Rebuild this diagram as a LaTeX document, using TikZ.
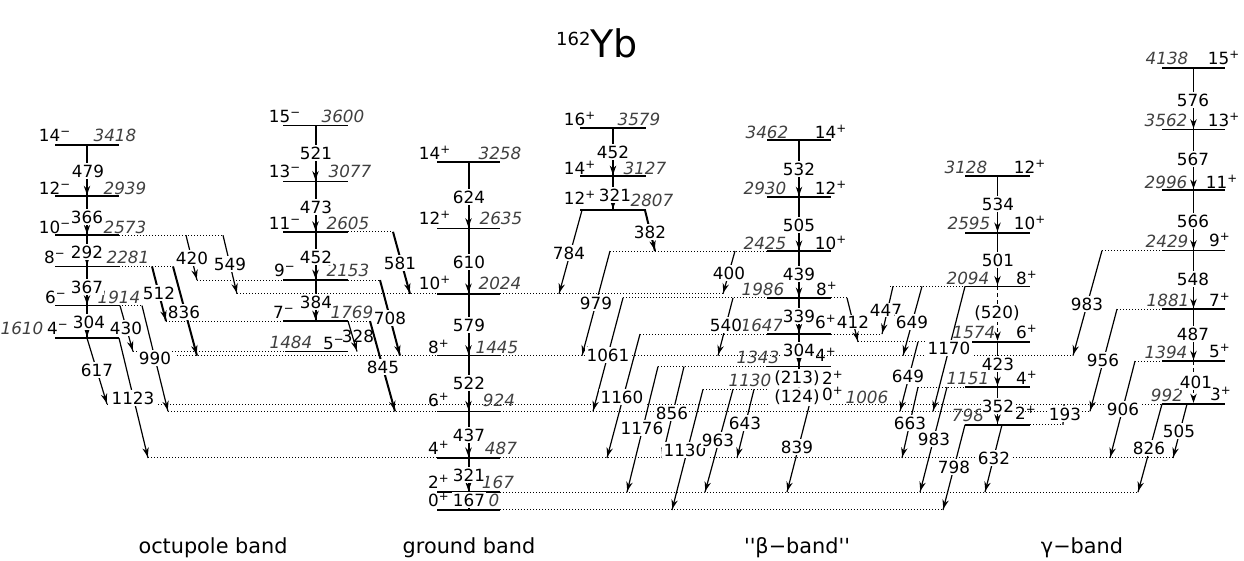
\documentclass[tikz,border=0pt]{standalone}
\usepackage{fontspec}
\setmainfont{DejaVu Sans}
\newfontfamily\plainfont{DejaVu Sans}
\usetikzlibrary{arrows.meta, decorations.markings}
% level height from the energy in keV
\newcommand\ey[1]{510-0.1068*#1}
\newcommand\numfont{\fontsize{8.4}{10}\selectfont}
\newcommand\pl[1]{#1\textsuperscript{+}}
\newcommand\mi[1]{#1\textsuperscript{−}}

\begin{document}
\begin{tikzpicture}[x=0.5pt, y=-0.5pt,
  lvl/.style={line width=0.8pt},
  dot/.style={line width=0.5pt, dash pattern=on 0.5pt off 1pt},
  tr/.style={line width=0.6pt, decoration={markings, mark=at position -0.6pt with {\arrow{Stealth[length=4.6pt,width=3.2pt]}}}, postaction={decorate}},
  thk/.style={tr, line width=1pt},
  dsh/.style={tr, dash pattern=on 2pt off 1.5pt},
  num/.style={inner sep=0.6pt, fill=white, font=\numfont},
  spin/.style={inner sep=0pt, font=\numfont},
  en/.style={inner sep=0pt, font=\numfont\itshape, text=black!75},
  band/.style={inner sep=0pt, font=\plainfont\fontsize{10.4}{12}\selectfont}
]
\useasboundingbox (0,0) rectangle (1244,561);

% dotted extensions of the levels
\draw[dot] (119,\ey{2573}) -- (223,\ey{2573});
\draw[dot] (119,\ey{2281}) -- (173,\ey{2281});
\draw[dot] (119,\ey{1914}) -- (142,\ey{1914});
\draw[dot] (197,\ey{2153}) -- (283,\ey{2153});
\draw[dot] (348,\ey{2153}) -- (380,\ey{2153});
\draw[dot] (348,\ey{2605}) -- (393,\ey{2605});
\draw[dot] (166,\ey{1769}) -- (283,\ey{1769});
\draw[dot] (348,\ey{1769}) -- (370,\ey{1769});
\draw[dot] (133,\ey{1484}) -- (285,\ey{1484});
\draw[dot] (237,\ey{2024}) -- (437,\ey{2024});
\draw[dot] (500,\ey{2024}) -- (723,\ey{2024});
\draw[dot] (177,\ey{1445}) -- (437,\ey{1445});
\draw[dot] (500,\ey{1445}) -- (1073,\ey{1445});
\draw[dot] (168,\ey{924}) -- (437,\ey{924});
\draw[dot] (500,\ey{924}) -- (1090,\ey{924});
\draw[dot] (148,\ey{487}) -- (437,\ey{487});
\draw[dot] (500,\ey{487}) -- (1173,\ey{487});
\draw[dot] (500,\ey{167}) -- (1138,\ey{167});
\draw[dot] (500,\ey{0}) -- (943,\ey{0});
\draw[dot] (107,\ey{992}) -- (768,\ey{992});
\draw[dot] (830,\ey{992}) -- (1162,\ey{992});
\draw[dot] (610,\ey{2425}) -- (767,\ey{2425});
\draw[dot] (623,\ey{1986}) -- (767,\ey{1986});
\draw[dot] (831,\ey{1986}) -- (847,\ey{1986});
\draw[dot] (640,\ey{1647}) -- (767,\ey{1647});
\draw[dot] (831,\ey{1647}) -- (882,\ey{1647});
\draw[dot] (658,\ey{1343}) -- (767,\ey{1343});
\draw[dot] (703,\ey{1130}) -- (768,\ey{1130});
\draw[dot] (890,\ey{2094}) -- (965,\ey{2094});
\draw[dot] (858,\ey{1574}) -- (965,\ey{1574});
\draw[dot] (918,\ey{1151}) -- (965,\ey{1151});
\draw[dot] (1030,\ey{798}) -- (1063,\ey{798});
\draw[dot] (1102,\ey{2429}) -- (1162,\ey{2429});
\draw[dot] (1117,\ey{1881}) -- (1162,\ey{1881});
\draw[dot] (1135,\ey{1394}) -- (1162,\ey{1394});

% levels
\foreach \E/\n in {1610/o4,1914/o6,2281/o8,2573/o10,2939/o12,3418/o14}
  \draw[lvl] (55,\ey{\E}) -- (119,\ey{\E}) coordinate[pos=0.5] (\n);
\foreach \E/\n in {1769/n7,2153/n9,2605/n11,3077/n13,3600/n15}
  \draw[lvl] (283,\ey{\E}) -- (348,\ey{\E}) coordinate[pos=0.5] (\n);
\draw[lvl] (285,\ey{1484}) -- (348,\ey{1484}) coordinate[pos=0.5] (n5);
\foreach \E/\n in {0/g0,167/g2,487/g4,924/g6,1445/g8,2024/g10,2635/g12,3258/g14}
  \draw[lvl] (437,\ey{\E}) -- (500,\ey{\E}) coordinate[pos=0.5] (\n);
\foreach \E/\n in {2807/s12,3127/s14,3579/s16}
  \draw[lvl] (580,\ey{\E}) -- (646,\ey{\E}) coordinate[pos=0.5] (\n);
\foreach \E/\n in {1343/b4,1647/b6,1986/b8,2425/b10,2930/b12,3462/b14}
  \draw[lvl] (767,\ey{\E}) -- (831,\ey{\E}) coordinate[pos=0.5] (\n);
\coordinate (b2) at (799,\ey{1130});
\coordinate (b0) at (799,\ey{1006});
\foreach \E/\n in {798/c2,1151/c4,1574/c6,2094/c8,2595/c10,3128/c12}
  \draw[lvl] (965,\ey{\E}) -- (1030,\ey{\E}) coordinate[pos=0.5] (\n);
\foreach \E/\n in {992/d3,1394/d5,1881/d7,2429/d9,2996/d11,3562/d13,4138/d15}
  \draw[lvl] (1162,\ey{\E}) -- (1225,\ey{\E}) coordinate[pos=0.5] (\n);

% in-band transitions
\foreach \a/\b in {o14/o12,o12/o10,o10/o8,o8/o6,o6/o4,n15/n13,n13/n11,n11/n9,n9/n7,
  g14/g12,g12/g10,g10/g8,g8/g6,g6/g4,g4/g2,g2/g0,s16/s14,s14/s12,b12/b10,b10/b8,b8/b6,b6/b4}
  \draw[thk] (\a) -- (\b);
\foreach \a/\b in {b14/b12,c12/c10,c10/c8,c6/c4,c4/c2,d15/d13,d13/d11,d11/d9,d9/d7,d7/d5}
  \draw[tr] (\a) -- (\b);
\foreach \a/\b in {b4/b2,b2/b0,c8/c6,d5/d3}
  \draw[dsh] (\a) -- (\b);

% interband transitions
\draw[tr] (186,\ey{2573}) -- (197,\ey{2153});
\draw[tr] (223,\ey{2573}) -- (237,\ey{2024});
\draw[thk] (152,\ey{2281}) -- (166,\ey{1769});
\draw[thk] (173,\ey{2281}) -- (197,\ey{1445});
\draw[tr] (120,\ey{1914}) -- (133,\ey{1484});
\draw[tr] (142,\ey{1914}) -- (168,\ey{924});
\draw[tr] (87,\ey{1610}) -- (107,\ey{992});
\draw[tr] (119,\ey{1610}) -- (148,\ey{487});
\draw[thk] (393,\ey{2605}) -- (410,\ey{2024});
\draw[thk] (380,\ey{2153}) -- (400,\ey{1445});
\draw[thk] (370,\ey{1769}) -- (395,\ey{924});
\draw[tr] (348,\ey{1769}) -- (357,\ey{1484});
\draw[tr] (582,\ey{2807}) -- (559,\ey{2024});
\draw[thk] (645,\ey{2807}) -- (655,\ey{2425});
\draw[tr] (610,\ey{2425}) -- (582,\ey{1445});
\draw[tr] (735,\ey{2425}) -- (723,\ey{2024});
\draw[tr] (623,\ey{1986}) -- (593,\ey{924});
\draw[tr] (733,\ey{1986}) -- (718,\ey{1445});
\draw[tr] (847,\ey{1986}) -- (858,\ey{1574});
\draw[tr] (640,\ey{1647}) -- (607,\ey{487});
\draw[tr] (658,\ey{1343}) -- (627,\ey{167});
\draw[tr] (684,\ey{1343}) -- (662,\ey{487});
\draw[tr] (703,\ey{1130}) -- (672,\ey{0});
\draw[tr] (733,\ey{1130}) -- (705,\ey{167});
\draw[tr] (754,\ey{1130}) -- (737,\ey{487});
\draw[tr] (810,\ey{1006}) -- (787,\ey{167});
\draw[tr] (893,\ey{2094}) -- (882,\ey{1647});
\draw[tr] (922,\ey{2094}) -- (903,\ey{1445});
\draw[tr] (965,\ey{2094}) -- (933,\ey{924});
\draw[tr] (918,\ey{1574}) -- (900,\ey{924});
\draw[tr] (918,\ey{1151}) -- (902,\ey{487});
\draw[tr] (947,\ey{1151}) -- (920,\ey{167});
\draw[tr] (965,\ey{798}) -- (943,\ey{0});
\draw[tr] (1002,\ey{798}) -- (985,\ey{167});
\draw[tr] (1064,\ey{992}) -- (1063,\ey{798});
\draw[tr] (1102,\ey{2429}) -- (1073,\ey{1445});
\draw[tr] (1117,\ey{1881}) -- (1090,\ey{924});
\draw[tr] (1135,\ey{1394}) -- (1110,\ey{487});
\draw[tr] (1162,\ey{992}) -- (1138,\ey{167});
\draw[tr] (1187,\ey{992}) -- (1173,\ey{487});

% octupole band labels
\node[spin] (s14m) at (55,135) {\mi{14}};
\node[en] (e3418) at (115,135) {3418};
\node[spin] (s12m) at (55,188) {\mi{12}};
\node[en] (e2939) at (125,188) {2939};
\node[spin] (s10m) at (55,227) {\mi{10}};
\node[en] (e2573) at (125,227) {2573};
\node[spin] (s8m) at (55,257) {\mi{8}};
\node[en] (e2281) at (128,257) {2281};
\node[spin] (s6m) at (56,297) {\mi{6}};
\node[en] (e1914) at (119,297) {1914};
\node[spin] (s4m) at (58,328) {\mi{4}};
\node[en] (e1610) at (22,328) {1610};
\node[num] (t479) at (88,171) {479};
\node[num] (t366) at (87,217) {366};
\node[num] (t292) at (87,252) {292};
\node[num] (t367) at (87,287) {367};
\node[num] (t304) at (89,322) {304};
\node[num] (t420) at (192,258) {420};
\node[num] (t549) at (230,264) {549};
\node[num] (t512) at (159,293) {512};
\node[num] (t836) at (184,312) {836};
\node[num] (t430) at (126,328) {430};
\node[num] (t990) at (155,358) {990};
\node[num] (t617) at (97,370) {617};
\node[num] (t1123) at (133,398) {1123};

% negative parity band labels
\node[spin] (s15m) at (285,116) {\mi{15}};
\node[en] (e3600) at (343,116) {3600};
\node[spin] (s13m) at (285,171) {\mi{13}};
\node[en] (e3077) at (350,171) {3077};
\node[spin] (s11m) at (285,223) {\mi{11}};
\node[en] (e2605) at (348,223) {2605};
\node[spin] (s9m) at (285,270) {\mi{9}};
\node[en] (e2153) at (348,270) {2153};
\node[spin] (s7m) at (284,312) {\mi{7}};
\node[en] (e1769) at (352,312) {1769};
\node[spin] (s5m) at (334,343) {\mi{5}};
\node[en] (e1484) at (291,342) {1484};
\node[num] (t521) at (316,153) {521};
\node[num] (t473) at (316,207) {473};
\node[num] (t452) at (316,257) {452};
\node[num] (t384) at (316,302) {384};
\node[num] (t581) at (400,263) {581};
\node[num] (t708) at (390,318) {708};
\node[num] (t845) at (383,367) {845};
\node[inner sep=0pt, font=\numfont] (t328) at (358,336) {328};

% ground band labels
\node[spin] (s14p) at (435,153) {\pl{14}};
\node[en] (e3258) at (500,153) {3258};
\node[spin] (s12p) at (435,218) {\pl{12}};
\node[en] (e2635) at (501,218) {2635};
\node[spin] (s10p) at (435,283) {\pl{10}};
\node[en] (e2024) at (500,283) {2024};
\node[spin] (s8p) at (439,347) {\pl{8}};
\node[en] (e1445) at (497,347) {1445};
\node[spin] (s6p) at (439,400) {\pl{6}};
\node[en] (e924) at (499,400) {924};
\node[spin] (s4p) at (439,448) {\pl{4}};
\node[en] (e487) at (501,448) {487};
\node[spin] (s2p) at (439,482) {\pl{2}};
\node[en] (e167) at (498,482) {167};
\node[spin] (s0p) at (439,500) {\pl{0}};
\node[en] (e0) at (494,500) {0};
\node[num] (t624) at (469,197) {624};
\node[num] (t610) at (469,262) {610};
\node[num] (t579) at (469,325) {579};
\node[num] (t522) at (469,383) {522};
\node[num] (t437) at (469,435) {437};
\node[num] (t321) at (469,475) {321};
\node[num] (t167) at (469,500) {167};

% 16+ band labels
\node[spin] (s16p) at (580,119) {\pl{16}};
\node[en] (e3579) at (639,119) {3579};
\node[spin] (s14pb) at (580,168) {\pl{14}};
\node[en] (e3127) at (645,168) {3127};
\node[spin] (s12pb) at (580,198) {\pl{12}};
\node[en] (e2807) at (652,200) {2807};
\node[num] (t452b) at (613,152) {452};
\node[num] (t321b) at (615,195) {321};
\node[num] (t784) at (569,253) {784};
\node[num] (t382) at (650,232) {382};

% beta band labels
\node[en] (e3462) at (767,132) {3462};
\node[spin] (s14pc) at (831,132) {\pl{14}};
\node[en] (e2930) at (765,188) {2930};
\node[spin] (s12pc) at (831,188) {\pl{12}};
\node[en] (e2425) at (765,243) {2425};
\node[spin] (s10pc) at (831,243) {\pl{10}};
\node[en] (e1986) at (763,289) {1986};
\node[spin] (s8pc) at (827,289) {\pl{8}};
\node[en] (e1647) at (762,325) {1647};
\node[spin] (s6pc) at (826,322) {\pl{6}};
\node[en] (e1343) at (758,357) {1343};
\node[spin] (s4pc) at (826,355) {\pl{4}};
\node[en] (e1130) at (750,380) {1130};
\node[spin] (s2pc) at (833,378) {\pl{2}};
\node[en] (e1006) at (867,397) {1006};
\node[spin] (s0pc) at (833,394) {\pl{0}};
\node[num] (t532) at (799,169) {532};
\node[num] (t505) at (799,225) {505};
\node[num] (t439) at (799,274) {439};
\node[num] (t339) at (799,316) {339};
\node[num] (t304b) at (799,350) {304};
\node[num] (t213) at (797,378) {(213)};
\node[num] (t124) at (797,397) {(124)};
\node[num] (t979) at (596,303) {979};
\node[num] (t400) at (729,273) {400};
\node[num] (t1061) at (608,355) {1061};
\node[num] (t540) at (726,325) {540};
\node[num] (t412) at (853,322) {412};
\node[num] (t1160) at (622,397) {1160};
\node[num] (t856) at (672,413) {856};
\node[num] (t1176) at (642,428) {1176};
\node[num] (t1130) at (685,450) {1130};
\node[num] (t963) at (718,440) {963};
\node[num] (t643) at (745,423) {643};
\node[num] (t839) at (797,447) {839};

% gamma band, even spins
\node[en] (e3128) at (966,167) {3128};
\node[spin] (s12pg) at (1030,167) {\pl{12}};
\node[en] (e2595) at (969,223) {2595};
\node[spin] (s10pg) at (1030,223) {\pl{10}};
\node[en] (e2094) at (968,278) {2094};
\node[spin] (s8pg) at (1027,278) {\pl{8}};
\node[en] (e1574) at (974,332) {1574};
\node[spin] (s6pg) at (1027,332) {\pl{6}};
\node[en] (e1151) at (968,378) {1151};
\node[spin] (s4pg) at (1027,378) {\pl{4}};
\node[en] (e798) at (968,415) {798};
\node[spin] (s2pg) at (1026,413) {\pl{2}};
\node[num] (t534) at (998,204) {534};
\node[num] (t501) at (998,260) {501};
\node[num] (t520) at (997,313) {(520)};
\node[num] (t423) at (998,364) {423};
\node[num] (t352) at (998,406) {352};
\node[num] (t447) at (886,310) {447};
\node[num] (t649a) at (912,322) {649};
\node[num] (t1170) at (949,348) {1170};
\node[num] (t649b) at (908,376) {649};
\node[num] (t663) at (910,423) {663};
\node[num] (t983b) at (934,439) {983};
\node[num] (t798) at (954,467) {798};
\node[num] (t632) at (994,458) {632};
\node[num] (t193) at (1065,414) {193};

% gamma band, odd spins
\node[en] (e4138) at (1167,58) {4138};
\node[spin] (s15p) at (1224,58) {\pl{15}};
\node[en] (e3562) at (1166,120) {3562};
\node[spin] (s13p) at (1224,120) {\pl{13}};
\node[en] (e2996) at (1166,182) {2996};
\node[spin] (s11p) at (1222,182) {\pl{11}};
\node[en] (e2429) at (1167,241) {2429};
\node[spin] (s9p) at (1220,240) {\pl{9}};
\node[en] (e1881) at (1168,300) {1881};
\node[spin] (s7p) at (1220,300) {\pl{7}};
\node[en] (e1394) at (1166,352) {1394};
\node[spin] (s5p) at (1220,351) {\pl{5}};
\node[en] (e992) at (1167,395) {992};
\node[spin] (s3p) at (1221,394) {\pl{3}};
\node[num] (t576) at (1193,100) {576};
\node[num] (t567) at (1193,159) {567};
\node[num] (t566) at (1193,221) {566};
\node[num] (t548) at (1193,279) {548};
\node[num] (t487) at (1193,334) {487};
\node[num] (t401) at (1196,382) {401};
\node[num] (t983a) at (1087,304) {983};
\node[num] (t956) at (1103,360) {956};
\node[num] (t906) at (1123,409) {906};
\node[num] (t826) at (1149,448) {826};
\node[num] (t505b) at (1179,431) {505};

% title and band names
\node[inner sep=0pt] (title) at (597,43)
  {\raisebox{6pt}{\fontsize{9}{10}\selectfont 162}\fontsize{19}{21}\selectfont Yb};
\node[band] (octband) at (213,548) {octupole band};
\node[band] (gsband) at (469,548) {ground band};
\node[band] (betaband) at (797,548) {''β−band''};
\node[band] (gamband) at (1082,548) {γ−band};
\end{tikzpicture}
\end{document}
